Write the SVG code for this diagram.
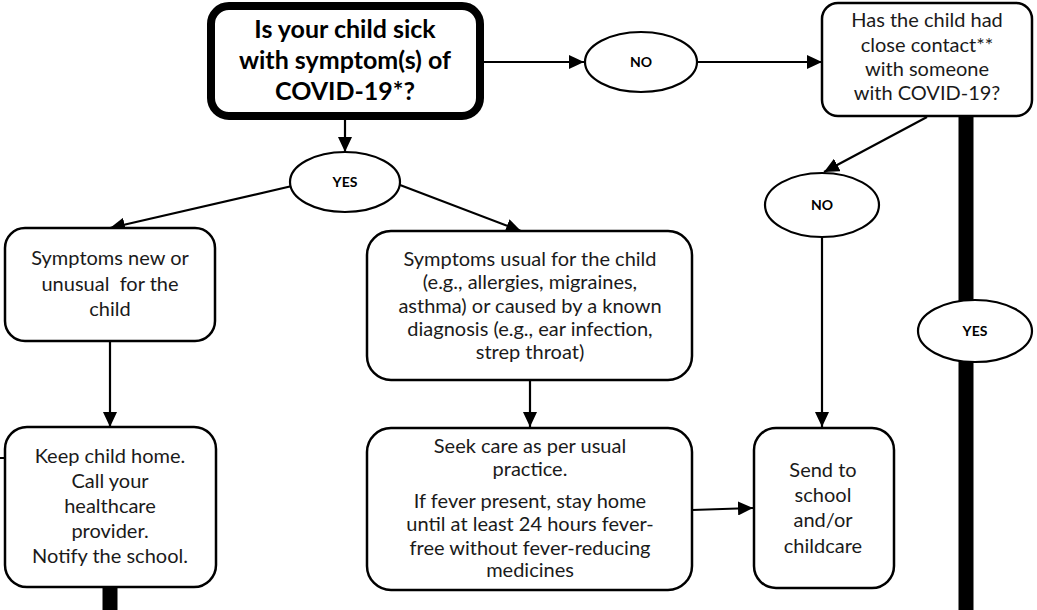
<svg xmlns="http://www.w3.org/2000/svg" width="1037" height="610" viewBox="0 0 1037 610">
  <style>
    .box { fill: #fff; stroke: #000; stroke-width: 2.5; }
    .oval { fill: #fff; stroke: #000; stroke-width: 2.2; }
    .txt { font-family: Lato, "Liberation Sans", sans-serif; font-size: 20px; fill: #1a1a1a; text-anchor: middle; }
    .lbl { font-family: Lato, "Liberation Sans", sans-serif; font-size: 14px; font-weight: bold; fill: #000; text-anchor: middle; }
    .title { font-family: Lato, "Liberation Sans", sans-serif; font-size: 25px; font-weight: bold; fill: #000; text-anchor: middle; }
    .edge { stroke: #000; stroke-width: 2.2; fill: none; marker-end: url(#arrow); }
    .bar { stroke: #000; stroke-width: 15; fill: none; }
  </style>
  <defs>
    <marker id="arrow" markerUnits="userSpaceOnUse" markerWidth="16" markerHeight="14" refX="15" refY="7" orient="auto">
      <path d="M0,0 L15,7 L0,14 Z" fill="#000"/>
    </marker>
  </defs>
  <rect width="1037" height="610" fill="#fff"/>

  <g id="connectors">
    <line class="edge" x1="484" y1="62" x2="584" y2="62"/>
    <line class="edge" x1="697" y1="62" x2="822" y2="62"/>
    <line class="edge" x1="345" y1="120" x2="345" y2="152"/>
    <line class="edge" x1="292" y1="186" x2="110" y2="228"/>
    <line class="edge" x1="400" y1="185" x2="521" y2="231"/>
    <line class="edge" x1="110" y1="341" x2="110" y2="427"/>
    <line class="edge" x1="530" y1="380" x2="530" y2="427"/>
    <line class="edge" x1="692" y1="510" x2="753" y2="508"/>
    <line class="edge" x1="927" y1="117" x2="824" y2="172"/>
    <line class="edge" x1="822" y1="237" x2="822" y2="427"/>
    <line class="bar" x1="966" y1="116" x2="966" y2="302"/>
    <line class="bar" x1="966" y1="360" x2="966" y2="610"/>
    <line class="bar" x1="110" y1="587" x2="110" y2="610"/>
    <line x1="0" y1="458" x2="5" y2="458" stroke="#000" stroke-width="2"/>
  </g>

  <g id="q-symptoms">
    <rect x="211" y="6" width="269" height="110" rx="18" fill="#fff" stroke="#000" stroke-width="8"/>
    <text class="title" x="345" y="38">Is your child sick</text>
    <text class="title" x="345" y="69">with symptom(s) of</text>
    <text class="title" x="345" y="100">COVID-19*?</text>
  </g>

  <g id="no-top">
    <ellipse class="oval" cx="641" cy="62" rx="56" ry="30"/>
    <text class="lbl" x="641" y="67">NO</text>
  </g>

  <g id="q-contact">
    <rect class="box" x="822" y="3" width="210" height="113" rx="16"/>
    <text class="txt" x="927" y="27">Has the child had</text>
    <text class="txt" x="927" y="52">close contact**</text>
    <text class="txt" x="927" y="76">with someone</text>
    <text class="txt" x="927" y="100">with COVID-19?</text>
  </g>

  <g id="yes-left">
    <ellipse class="oval" cx="345" cy="182" rx="55" ry="30"/>
    <text class="lbl" x="345" y="187">YES</text>
  </g>

  <g id="no-right">
    <ellipse class="oval" cx="822" cy="205" rx="57" ry="32"/>
    <text class="lbl" x="822" y="210">NO</text>
  </g>

  <g id="yes-right">
    <ellipse class="oval" cx="975" cy="331" rx="57" ry="31"/>
    <text class="lbl" x="975" y="336">YES</text>
  </g>

  <g id="new-symptoms">
    <rect class="box" x="5" y="228" width="210" height="113" rx="20"/>
    <text class="txt" x="110" y="265">Symptoms new or</text>
    <text class="txt" x="110" y="291" xml:space="preserve">unusual  for the</text>
    <text class="txt" x="110" y="316">child</text>
  </g>

  <g id="usual-symptoms">
    <rect class="box" x="367" y="231" width="325" height="149" rx="24"/>
    <text class="txt" x="530" y="266">Symptoms usual for the child</text>
    <text class="txt" x="530" y="289">(e.g., allergies, migraines,</text>
    <text class="txt" x="530" y="313">asthma) or caused by a known</text>
    <text class="txt" x="530" y="336">diagnosis (e.g., ear infection,</text>
    <text class="txt" x="530" y="359">strep throat)</text>
  </g>

  <g id="keep-home">
    <rect class="box" x="5" y="427" width="211" height="160" rx="22"/>
    <text class="txt" x="110" y="463">Keep child home.</text>
    <text class="txt" x="110" y="488">Call your</text>
    <text class="txt" x="110" y="513">healthcare</text>
    <text class="txt" x="110" y="538">provider.</text>
    <text class="txt" x="110" y="563">Notify the school.</text>
  </g>

  <g id="seek-care">
    <rect class="box" x="367" y="428" width="325" height="162" rx="24"/>
    <text class="txt" x="530" y="453">Seek care as per usual</text>
    <text class="txt" x="530" y="476">practice.</text>
    <text class="txt" x="530" y="508">If fever present, stay home</text>
    <text class="txt" x="530" y="531">until at least 24 hours fever-</text>
    <text class="txt" x="530" y="555">free without fever-reducing</text>
    <text class="txt" x="530" y="577">medicines</text>
  </g>

  <g id="send-school">
    <rect class="box" x="754" y="428" width="140" height="160" rx="22"/>
    <text class="txt" x="823" y="477">Send to</text>
    <text class="txt" x="823" y="502">school</text>
    <text class="txt" x="823" y="527">and/or</text>
    <text class="txt" x="823" y="553">childcare</text>
  </g>
</svg>
